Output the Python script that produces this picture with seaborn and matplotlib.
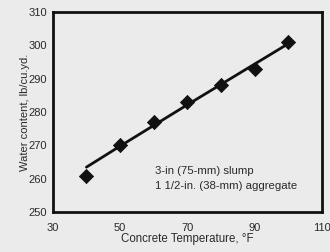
import matplotlib
matplotlib.use("Agg")
import matplotlib.pyplot as plt
import seaborn as sns
import pandas as pd

# data
temps = [40, 50, 60, 70, 80, 90, 100]
water = [261, 270, 277, 283, 288, 293, 301]
# fitted trend line as drawn
trend = [263.5, 269.8, 276.0, 282.2, 288.3, 294.4, 300.5]

x_ticks = [30, 50, 70, 90, 110]
y_ticks = [250, 260, 270, 280, 290, 300, 310]

df = pd.DataFrame({"temp": temps, "water": water, "trend": trend})

sns.set_style("white")
plt.rcParams['font.family'] = ['Liberation Sans', 'DejaVu Sans']

bg = "#ebebeb"
txt = "#2a2a2a"
fig, ax = plt.subplots(figsize=(3.3, 2.52), dpi=100)
fig.patch.set_facecolor(bg)
ax.set_facecolor(bg)

sns.lineplot(data=df, x="temp", y="trend", color="#111111", lw=2, ax=ax)
sns.scatterplot(data=df, x="temp", y="water", marker="D", s=52, color="#111111",
                edgecolor="#111111", ax=ax, zorder=3)

ax.set_xlim(30, 110)
ax.set_ylim(250, 310)
ax.set_xticks(x_ticks)
ax.set_yticks(y_ticks)
ax.tick_params(axis="both", labelsize=8, colors=txt, length=2.5, width=0.8)
ax.tick_params(axis="x", pad=5)
ax.tick_params(axis="y", pad=1.5)
for s in ax.spines.values():
    s.set_color("#111111")
    s.set_linewidth(2)

ax.set_xlabel("Concrete Temperature, °F", fontsize=8.3, color=txt, labelpad=0)
ax.set_ylabel("Water content, lb/cu.yd.", fontsize=8, color=txt, labelpad=-1)

ax.text(60.5, 262.3, "3-in (75-mm) slump", fontsize=8.2, color=txt, va="center")
ax.text(60.5, 257.8, "1 1/2-in. (38-mm) aggregate", fontsize=8.2, color=txt, va="center")

fig.subplots_adjust(left=0.16, right=0.975, bottom=0.158, top=0.952)
fig.savefig("out.png", dpi=100, facecolor=bg)
